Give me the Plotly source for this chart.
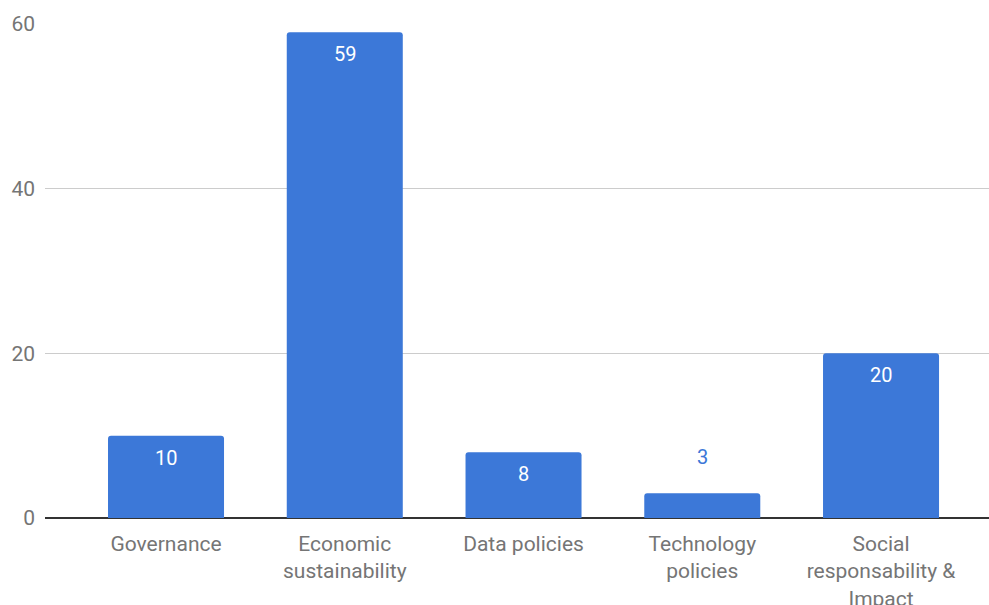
import plotly.graph_objects as go

categories = ["Governance", "Economic<br>sustainability", "Data policies",
              "Technology<br>policies", "Social<br>responsability &<br>Impact"]
values = [10, 59, 8, 3, 20]
y_ticks = [0, 20, 40, 60]

BAR = "#3c78d8"
FONT = "Roboto, Arial, sans-serif"

fig = go.Figure(go.Bar(
    x=categories, y=values,
    marker=dict(color=BAR, line=dict(width=0), cornerradius=3),
    hoverinfo="skip",
))

# value labels: inside near the top for tall bars, above for short ones
for cat, v in zip(categories, values):
    inside = v >= 5
    fig.add_annotation(
        x=cat, y=v, text=str(v), showarrow=False,
        yanchor="middle", yshift=-22 if inside else 36,
        font=dict(family=FONT, size=20, color="white" if inside else BAR),
    )

fig.update_layout(
    width=989, height=605,
    margin=dict(l=45, r=0, t=24, b=87),
    plot_bgcolor="white", paper_bgcolor="white",
    bargap=0.351, showlegend=False,
    font=dict(family=FONT, size=21, color="#757575"),
    xaxis=dict(range=[-0.677, 4.604], showgrid=False, showline=False,
               zeroline=False, ticks="", ticklabelstandoff=11,
               automargin=False,
               tickfont=dict(size=21, color="#757575")),
    yaxis=dict(range=[0, 60], tickvals=y_ticks, showgrid=True,
               gridcolor="#cccccc", gridwidth=1, zeroline=True,
               zerolinecolor="#333333", zerolinewidth=2, showline=False,
               ticks="", ticklabelstandoff=9, automargin=False,
               tickfont=dict(size=21, color="#757575")),
)

fig.write_html("out.html")
